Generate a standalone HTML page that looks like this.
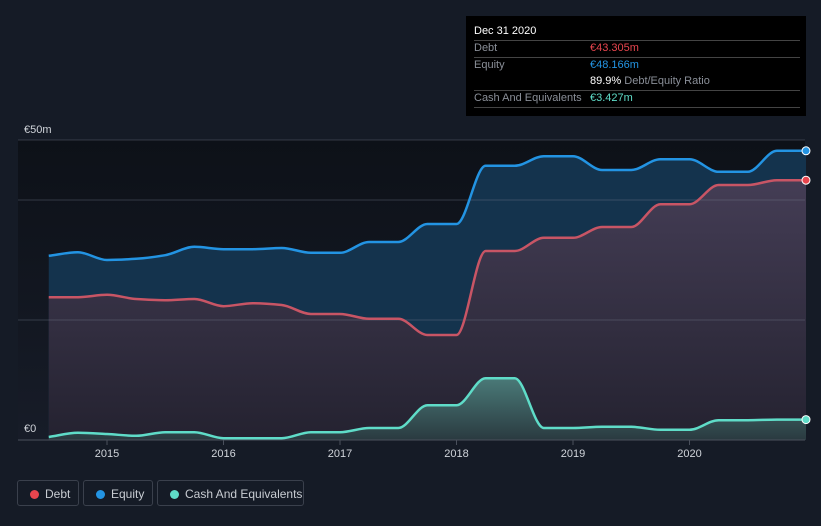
<!DOCTYPE html>
<html><head><meta charset="utf-8"><style>
body{margin:0;width:821px;height:526px;background:#151b26;overflow:hidden;font-family:"Liberation Sans",sans-serif}
#tip{position:absolute;left:466px;top:16px;width:340px;height:100px;background:#000;font-size:11px;color:#8a8f98}
#tip .r{position:absolute;left:8px;right:6px;border-bottom:1px solid #444}
.leg{position:absolute;top:480px;height:26px;border:1px solid #3a404c;border-radius:3px;color:#c8ccd2;font-size:12px;line-height:26px;box-sizing:border-box}
.leg i{position:absolute;left:12px;top:9px;width:9px;height:9px;border-radius:50%}
</style></head><body>
<svg id="c" width="821" height="526" style="position:absolute;left:0;top:0">
<defs>
<linearGradient id="bg" x1="0" y1="0" x2="0" y2="1"><stop offset="0" stop-color="#0d1118"/><stop offset="1" stop-color="#171c28"/></linearGradient>
<linearGradient id="dg" x1="0" y1="0" x2="0" y2="1"><stop offset="0" stop-color="#443d55"/><stop offset="1" stop-color="#242230"/></linearGradient>
<linearGradient id="cg" x1="0" y1="0" x2="0" y2="1"><stop offset="0" stop-color="#4a7a78"/><stop offset="1" stop-color="#2a3a40"/></linearGradient>
</defs>
<rect x="18" y="140" width="787" height="300" fill="url(#bg)"/>
<g id="areas"></g><g id="grid"></g><g id="lines"></g><g id="axis"></g>
</svg>
<div id="tip">
<div style="position:absolute;left:8px;top:9px;color:#fff;font-size:11px">Dec 31 2020</div>
<div class="r" style="top:24px"></div>
<div style="position:absolute;left:8px;top:26px">Debt</div><div style="position:absolute;left:124px;top:26px;color:#e8454e">€43.305m</div>
<div class="r" style="top:41px"></div>
<div style="position:absolute;left:8px;top:43px">Equity</div><div style="position:absolute;left:124px;top:43px;color:#2394e3">€48.166m</div>
<div style="position:absolute;left:124px;top:59px"><span style="color:#fff">89.9%</span> Debt/Equity Ratio</div>
<div class="r" style="top:74px"></div>
<div style="position:absolute;left:8px;top:76px">Cash And Equivalents</div><div style="position:absolute;left:124px;top:76px;color:#5fdcc8">€3.427m</div>
<div class="r" style="top:91px"></div>
</div>
<div class="leg" style="left:17px;width:62px"><i style="background:#e8454e"></i><span style="position:absolute;left:27px">Debt</span></div>
<div class="leg" style="left:83px;width:70px"><i style="background:#2394e3"></i><span style="position:absolute;left:27px">Equity</span></div>
<div class="leg" style="left:157px;width:147px"><i style="background:#5fdcc8"></i><span style="position:absolute;left:27px">Cash And Equivalents</span></div>
<script>
const dates=[];for(let i=0;i<27;i++)dates.push(2014.5+0.25*i);
const equity=[30.7,31.3,30.0,30.2,30.8,32.2,31.8,31.8,32.0,31.2,31.2,33.0,33.0,36.0,36.0,45.7,45.7,47.3,47.3,45.0,45.0,46.8,46.8,44.7,44.7,48.2,48.2];
const debt=[23.8,23.8,24.2,23.5,23.3,23.5,22.3,22.8,22.5,21.0,21.0,20.2,20.2,17.5,17.5,31.5,31.5,33.7,33.7,35.5,35.5,39.3,39.3,42.5,42.5,43.3,43.3];
const cash=[0.5,1.2,1.0,0.7,1.3,1.3,0.3,0.3,0.3,1.3,1.3,2.0,2.0,5.8,5.8,10.3,10.3,2.0,2.0,2.2,2.2,1.7,1.7,3.3,3.3,3.4,3.4];
const xTicks=[2015,2016,2017,2018,2019,2020];
const yGrid=[0,20,40,50];
const X=t=>107+(t-2015)*116.5, Y=v=>440-v*6;
const NS='http://www.w3.org/2000/svg';
function mk(tag,attrs,parent){const e=document.createElementNS(NS,tag);for(const k in attrs)e.setAttribute(k,attrs[k]);document.getElementById(parent).appendChild(e);return e;}
function mono(xs,ys){const n=xs.length,d=[],m=[];for(let i=0;i<n-1;i++)d.push((ys[i+1]-ys[i])/(xs[i+1]-xs[i]));
m[0]=d[0];m[n-1]=d[n-2];for(let i=1;i<n-1;i++){if(d[i-1]*d[i]<=0)m[i]=0;else{const h0=xs[i]-xs[i-1],h1=xs[i+1]-xs[i];m[i]=3*(h0+h1)/((2*h1+h0)/d[i-1]+(h1+2*h0)/d[i]);}}
let p='M'+xs[0]+','+ys[0];for(let i=0;i<n-1;i++){const h=(xs[i+1]-xs[i])/3;p+=' C'+(xs[i]+h)+','+(ys[i]+m[i]*h)+' '+(xs[i+1]-h)+','+(ys[i+1]-m[i+1]*h)+' '+xs[i+1]+','+ys[i+1];}return p;}
const xs=dates.map(X);
yGrid.forEach(v=>{const g=mk('line',{x1:18,x2:805,y1:Y(v),y2:Y(v),stroke:v==0?'#4a505c':'rgba(120,128,145,0.35)','stroke-width':1},'grid');

});
const series=[[equity,'#2394e3','#14334d','equity'],[debt,'#c85565','url(#dg)','debt'],[cash,'#5fdcc8','url(#cg)','cash']];
series.forEach(([vals,col,fill,nm])=>{const ys=vals.map(Y);const p=mono(xs,ys);
const a=mk('path',{d:p+' L'+xs[xs.length-1]+',440 L'+xs[0]+',440 Z',fill:fill},'areas');


const l=mk('path',{d:p,fill:'none',stroke:col,'stroke-width':2.5},'lines');


const c=mk('circle',{cx:xs[xs.length-1],cy:ys[ys.length-1],r:4,fill:nm=='debt'?'#e8454e':col,stroke:'#fff','stroke-width':1},'lines');

});
xTicks.forEach(t=>{const tk=mk('line',{x1:X(t),x2:X(t),y1:440,y2:445,stroke:'#4a505c'},'axis');


const tx=mk('text',{x:X(t),y:457,fill:'#d0d4da','font-size':11,'text-anchor':'middle','font-family':'Liberation Sans, sans-serif'},'axis');tx.textContent=t;

});
[['€50m',133],['€0',432]].forEach(([s,y])=>{const tx=mk('text',{x:24,y:y,fill:'#d0d4da','font-size':11,'font-family':'Liberation Sans, sans-serif'},'axis');tx.textContent=s;

});
</script>
</body></html>
